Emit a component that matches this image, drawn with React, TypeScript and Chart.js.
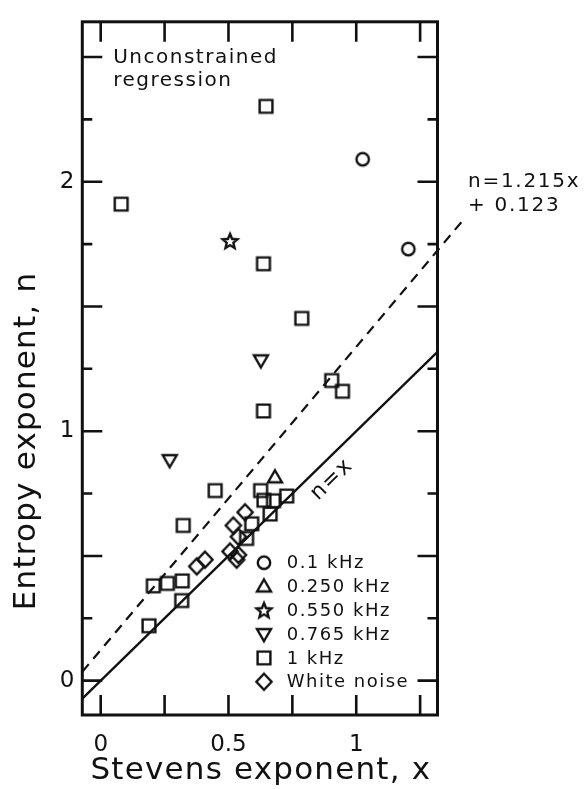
import React, { useEffect, useRef } from 'react';
import { Chart, registerables } from 'chart.js';

Chart.register(...registerables);

// ---- data ----
const c01X = [1.025, 1.204];
const c01Y = [2.09, 1.73];

const c250X = [0.682];
const c250Y = [0.815];

const c550X = [0.506];
const c550Y = [1.762];

const c765X = [0.627, 0.27];
const c765Y = [1.284, 0.884];

const k1X = [0.647, 0.637, 0.787, 0.904, 0.946, 0.637, 0.08, 0.448, 0.323, 0.626, 0.639, 0.676, 0.728, 0.663, 0.591, 0.571, 0.206, 0.261, 0.319, 0.317, 0.189];
const k1Y = [2.302, 1.671, 1.452, 1.203, 1.16, 1.081, 1.91, 0.762, 0.622, 0.762, 0.723, 0.721, 0.74, 0.668, 0.629, 0.57, 0.38, 0.39, 0.4, 0.321, 0.22];

const wnX = [0.565, 0.519, 0.539, 0.506, 0.539, 0.532, 0.376, 0.408];
const wnY = [0.675, 0.622, 0.577, 0.518, 0.504, 0.485, 0.458, 0.485];

const seriesLabels = ['0.1 kHz', '0.250 kHz', '0.550 kHz', '0.765 kHz', '1 kHz', 'White noise'];

// regression lines
const fitSlope = 1.215;
const fitIntercept = 0.123;
const X_MIN = -0.072;
const X_MAX = 1.318;
const Y_MIN = -0.1376;
const Y_MAX = 2.641;
const DASH_END_X = 1.42;

// tick marks / labels
const xTickMarks = [0, 0.25, 0.5, 0.75, 1, 1.25];
const yTickMarks = [0, 0.25, 0.5, 0.75, 1, 1.25, 1.5, 1.75, 2, 2.25, 2.5];
const xTickLabels = [0, 0.5, 1];
const yTickLabels = [0, 1, 2];

const FONT = '"DejaVu Sans", sans-serif';
const INK = '#111';

function makeMarker(kind: string): HTMLCanvasElement {
  const S = 28;
  const c = document.createElement('canvas');
  c.width = S;
  c.height = S;
  const g = c.getContext('2d') as CanvasRenderingContext2D;
  g.strokeStyle = INK;
  g.lineWidth = 2.4;
  g.lineJoin = 'miter';
  const m = S / 2;
  g.beginPath();
  if (kind === 'circle') {
    g.arc(m, m, 6.2, 0, Math.PI * 2);
  } else if (kind === 'square') {
    g.rect(m - 6.4, m - 6.4, 12.8, 12.8);
  } else if (kind === 'tri') {
    g.moveTo(m, m - 7);
    g.lineTo(m + 7, m + 5);
    g.lineTo(m - 7, m + 5);
    g.closePath();
  } else if (kind === 'itri') {
    g.moveTo(m, m + 7);
    g.lineTo(m + 7, m - 5);
    g.lineTo(m - 7, m - 5);
    g.closePath();
  } else if (kind === 'star') {
    for (let i = 0; i < 10; i++) {
      const r = i % 2 ? 3.5 : 7.8;
      const a = -Math.PI / 2 + (i * Math.PI) / 5;
      const px = m + r * Math.cos(a);
      const py = m + 0.6 + r * Math.sin(a);
      if (i === 0) g.moveTo(px, py);
      else g.lineTo(px, py);
    }
    g.closePath();
  } else if (kind === 'diamond') {
    g.moveTo(m, m - 8);
    g.lineTo(m + 7.6, m);
    g.lineTo(m, m + 8);
    g.lineTo(m - 7.6, m);
    g.closePath();
  }
  g.stroke();
  return c;
}

function zip(xs: number[], ys: number[]) {
  return xs.map((x, i) => ({ x, y: ys[i] }));
}

export default function App() {
  const ref = useRef<HTMLCanvasElement | null>(null);

  useEffect(() => {
    const canvas = ref.current;
    if (!canvas) return;

    const markers = ['circle', 'tri', 'star', 'itri', 'square', 'diamond'].map(makeMarker);
    const seriesData = [
      zip(c01X, c01Y),
      zip(c250X, c250Y),
      zip(c550X, c550Y),
      zip(c765X, c765Y),
      zip(k1X, k1Y),
      zip(wnX, wnY),
    ];

    const framePlugin = {
      id: 'frame',
      afterDraw(chart: any) {
        const ctx: CanvasRenderingContext2D = chart.ctx;
        const { left, right, top, bottom } = chart.chartArea;
        const xs = chart.scales.x;
        const ys = chart.scales.y;
        ctx.save();
        ctx.strokeStyle = INK;
        ctx.fillStyle = INK;
        // box
        ctx.lineWidth = 3;
        ctx.strokeRect(left, top, right - left, bottom - top);
        // ticks
        ctx.lineWidth = 2.6;
        ctx.beginPath();
        xTickMarks.forEach((v) => {
          const px = xs.getPixelForValue(v);
          ctx.moveTo(px, bottom);
          ctx.lineTo(px, bottom - 20);
          ctx.moveTo(px, top);
          ctx.lineTo(px, top + 20);
        });
        yTickMarks.forEach((v) => {
          const py = ys.getPixelForValue(v);
          const len = Math.abs((v * 2) % 1) < 1e-6 ? 20 : 10;
          ctx.moveTo(left, py);
          ctx.lineTo(left + len, py);
          ctx.moveTo(right, py);
          ctx.lineTo(right - len, py);
        });
        ctx.stroke();

        // axis titles
        (ctx as any).letterSpacing = '1.2px';
        ctx.font = `31px ${FONT}`;
        ctx.textAlign = 'center';
        ctx.textBaseline = 'middle';
        ctx.fillText('Stevens exponent, x', (left + right) / 2 + 1, 771);
        ctx.save();
        ctx.translate(27, 441);
        ctx.rotate(-Math.PI / 2);
        ctx.fillText('Entropy exponent, n', 0, 0);
        ctx.restore();

        // annotations
        (ctx as any).letterSpacing = '1.5px';
        ctx.font = `20px ${FONT}`;
        ctx.textAlign = 'left';
        ctx.textBaseline = 'alphabetic';
        const ax = xs.getPixelForValue(0.049);
        const ay = ys.getPixelForValue(2.475);
        ctx.fillText('Unconstrained', ax, ay);
        ctx.fillText('regression', ax, ay + 23);

        (ctx as any).letterSpacing = '1.7px';
        ctx.textBaseline = 'middle';
        const fx = xs.getPixelForValue(1.4376);
        const fy = ys.getPixelForValue(2.0);
        ctx.fillText('n=1.215x', fx, fy);
        ctx.fillText('+ 0.123', fx, fy + 24);

        // n=x label along the identity line
        ctx.save();
        (ctx as any).letterSpacing = '1.5px';
        ctx.font = `22px ${FONT}`;
        ctx.translate(xs.getPixelForValue(0.905), ys.getPixelForValue(0.806));
        ctx.rotate(-Math.atan2(ys.getPixelForValue(0) - ys.getPixelForValue(1), xs.getPixelForValue(1) - xs.getPixelForValue(0)));
        ctx.textAlign = 'center';
        ctx.fillText('n=x', 0, 0);
        ctx.restore();

        // legend
        (ctx as any).letterSpacing = '1.5px';
        ctx.font = `18px ${FONT}`;
        ctx.textAlign = 'left';
        ctx.textBaseline = 'middle';
        seriesLabels.forEach((lab, i) => {
          const ry = bottom - 152.3 + i * 23.8;
          const mk = markers[i];
          ctx.drawImage(mk, right - 173.5 - mk.width / 2, ry - mk.height / 2);
          ctx.fillText(lab, right - 150.8, ry + 1);
        });
        ctx.restore();
      },
    };

    const chart = new Chart(canvas, {
      type: 'scatter',
      data: {
        datasets: [
          {
            type: 'line',
            label: 'n=x',
            data: [
              { x: X_MIN, y: X_MIN },
              { x: X_MAX, y: X_MAX },
            ],
            borderColor: INK,
            borderWidth: 2.4,
            pointRadius: 0,
            fill: false,
          },
          {
            type: 'line',
            label: 'fit',
            data: [
              { x: X_MIN, y: fitSlope * X_MIN + fitIntercept },
              { x: DASH_END_X, y: fitSlope * DASH_END_X + fitIntercept },
            ],
            borderColor: INK,
            borderWidth: 2.2,
            borderDash: [10, 7],
            pointRadius: 0,
            fill: false,
            clip: false,
          },
          ...seriesData.map((d, i) => ({
            label: seriesLabels[i],
            data: d,
            pointStyle: markers[i],
            pointRadius: 8,
            showLine: false,
            borderColor: INK,
            backgroundColor: 'rgba(0,0,0,0)',
          })),
        ] as any,
      },
      options: {
        responsive: false,
        animation: false,
        devicePixelRatio: 1,
        layout: { padding: { top: 8, right: 149.5, left: 0, bottom: 0 } },
        plugins: { legend: { display: false }, tooltip: { enabled: false } },
        scales: {
          x: {
            type: 'linear',
            min: X_MIN,
            max: X_MAX,
            grid: { display: false, drawTicks: false },
            border: { display: false },
            afterBuildTicks: (s: any) => {
              s.ticks = xTickLabels.map((v) => ({ value: v }));
            },
            afterFit: (s: any) => {
              s.height = 74;
            },
            ticks: {
              padding: 16,
              color: INK,
              font: { family: FONT, size: 23 },
              callback: (v: any) => String(v),
            },
          },
          y: {
            type: 'linear',
            min: Y_MIN,
            max: Y_MAX,
            grid: { display: false, drawTicks: false },
            border: { display: false },
            afterBuildTicks: (s: any) => {
              s.ticks = yTickLabels.map((v) => ({ value: v }));
            },
            afterFit: (s: any) => {
              s.width = 82.3;
            },
            ticks: {
              padding: 8,
              color: INK,
              font: { family: FONT, size: 23 },
              callback: (v: any) => String(v),
            },
          },
        },
      } as any,
      plugins: [framePlugin],
    });

    return () => chart.destroy();
  }, []);

  return (
    <div style={{ position: 'fixed', left: 0, top: 0, width: 587, height: 789, background: '#fff' }}>
      <canvas ref={ref} width={587} height={789} style={{ display: 'block' }} />
    </div>
  );
}
